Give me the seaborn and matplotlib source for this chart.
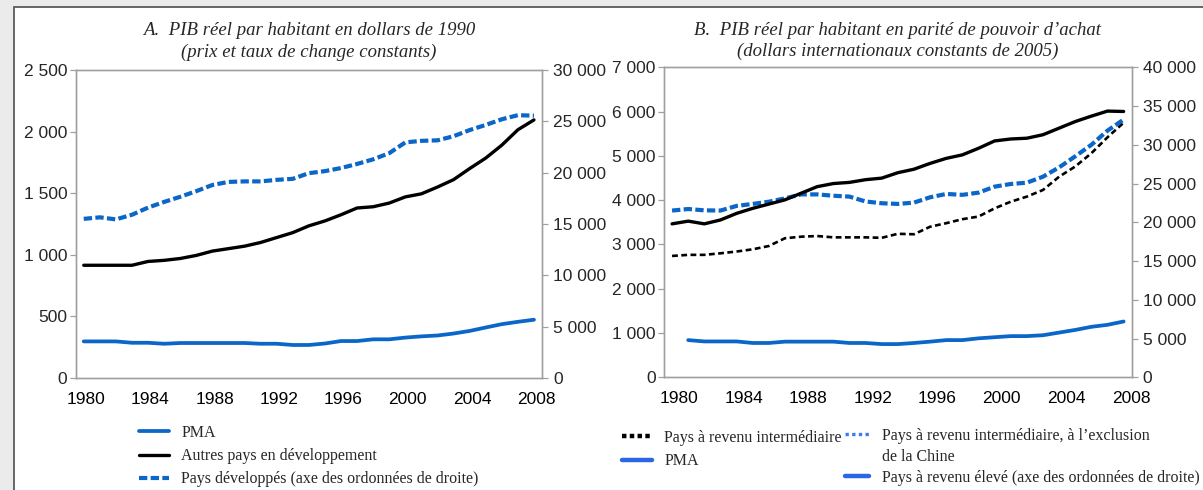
import matplotlib
matplotlib.use("Agg")
import matplotlib.pyplot as plt
import seaborn as sns
import numpy as np
from matplotlib.ticker import FuncFormatter, FixedLocator
from matplotlib.lines import Line2D
from matplotlib.patches import Rectangle

# ---------------- data ----------------
years = list(range(1980, 2009))
label_years = [1980, 1984, 1988, 1992, 1996, 2000, 2004, 2008]

# Panel A : PIB réel par habitant en dollars de 1990
pma_a = [297, 297, 297, 286, 286, 278, 284, 284, 284, 284, 284, 278, 278, 268, 268,
         280, 300, 300, 314, 314, 328, 338, 345, 361, 382, 410, 437, 456, 473]
autres_a = [915, 915, 915, 915, 946, 955, 970, 995, 1030, 1050, 1070, 1100, 1140, 1180, 1235,
            1275, 1325, 1380, 1390, 1420, 1470, 1495, 1550, 1610, 1700, 1785, 1890, 2015, 2095]
developpes_a = [15500, 15650, 15450, 15900, 16600, 17150, 17650, 18200, 18800, 19100, 19150,
                19150, 19300, 19400, 19950, 20150, 20450, 20850, 21300, 21900, 22950, 23100,
                23150, 23550, 24150, 24650, 25200, 25600, 25550]

# Panel B : PIB réel par habitant en PPA (dollars internationaux constants de 2005)
eleve_b = [19800, 20150, 19800, 20300, 21150, 21800, 22350, 22900, 23750, 24600, 25000, 25150,
           25500, 25700, 26400, 26850, 27600, 28250, 28700, 29550, 30500, 30750, 30850, 31300,
           32150, 33000, 33700, 34350, 34300]
inter_b = [2740, 2765, 2765, 2800, 2840, 2890, 2965, 3140, 3175, 3190, 3160, 3160, 3160, 3150,
           3240, 3230, 3400, 3480, 3570, 3630, 3815, 3965, 4080, 4230, 4530, 4760, 5060, 5420, 5750]
inter_hors_chine_b = [3765, 3800, 3770, 3765, 3870, 3915, 3965, 4040, 4130, 4130, 4100, 4080,
                      3970, 3930, 3915, 3945, 4065, 4140, 4120, 4170, 4305, 4365, 4395, 4530,
                      4740, 4990, 5250, 5570, 5820]
pma_b = [np.nan, 840, 810, 810, 810, 775, 775, 805, 805, 805, 805, 775, 775, 750, 750, 775, 805,
         840, 840, 880, 905, 930, 930, 950, 1010, 1070, 1140, 1185, 1260]

legend_a = ["PMA", "Autres pays en développement",
            "Pays développés (axe des ordonnées de droite)"]
legend_b1 = ["Pays à revenu intermédiaire", "PMA"]
legend_b2 = ["Pays à revenu intermédiaire, à l\u2019exclusion", "de la Chine",
             "Pays à revenu élevé (axe des ordonnées de droite)"]
title_a = ["A.  PIB réel par habitant en dollars de 1990", "(prix et taux de change constants)"]
title_b = ["B.  PIB réel par habitant en parité de pouvoir d\u2019achat",
           "(dollars internationaux constants de 2005)"]

# ---------------- style ----------------
sns.set_style("white")
plt.rcParams["font.family"] = ["Liberation Sans", "DejaVu Sans"]
SERIF = "Liberation Serif"
BLUE = "#0a66c8"
BLUE_LEG = "#2a66e6"
GRAY = "#a0a0a0"
FS = 12.5
LFS = 11.5

W, H = 1203, 490
fig = plt.figure(figsize=(W / 100, H / 100), dpi=100, facecolor="#ebebeb")
fig.add_artist(Rectangle((14 / W, -0.1), 1.2, 1.1 - 7.3 / H, transform=fig.transFigure,
                         facecolor="white", edgecolor="#5a5a5a", lw=1.3, zorder=-5))


def fmt(v, pos):
    return f"{v:,.0f}".replace(",", " ")


def style_axes(ax, axr, ylim, ystep, ylimr, ystepr, label_offset):
    ax.set_xlim(1979.5, 2008.5)
    ax.set_ylim(*ylim)
    axr.set_ylim(*ylimr)
    ax.set_yticks(np.arange(ylim[0], ylim[1] + 1, ystep))
    axr.set_yticks(np.arange(ylimr[0], ylimr[1] + 1, ystepr))
    ax.yaxis.set_major_formatter(FuncFormatter(fmt))
    axr.yaxis.set_major_formatter(FuncFormatter(fmt))
    ax.xaxis.set_major_locator(FixedLocator([y + label_offset for y in label_years]))
    ax.set_xticklabels([str(y) for y in label_years])
    ax.xaxis.set_minor_locator(FixedLocator([y + 0.5 for y in years[:-1]]))
    ax.tick_params(axis="x", which="major", length=0, pad=10, labelsize=FS, labelcolor="black")
    ax.tick_params(axis="x", which="minor", direction="inout", length=9, width=0.9, color=GRAY)
    ax.tick_params(axis="y", which="major", direction="out", length=4, width=0.9, color=GRAY,
                   pad=2, labelsize=FS)
    axr.tick_params(axis="y", which="major", direction="out", length=4, width=0.9, color=GRAY,
                    pad=4, labelsize=FS)
    for a in (ax, axr):
        for s in a.spines.values():
            s.set_color(GRAY)
            s.set_linewidth(1.0)
        a.set_xlabel("")
        a.set_ylabel("")
        a.grid(False)


def titles(ax, lines, y1, y2):
    ax.text(0.5, y1, lines[0], transform=ax.transAxes, ha="center", va="center",
            family=SERIF, style="italic", fontsize=13.5)
    ax.text(0.5, y2, lines[1], transform=ax.transAxes, ha="center", va="center",
            family=SERIF, style="italic", fontsize=13.5)


def legend(handles, labels, x, y, hl, spacing):
    fig.legend(handles, labels, loc="upper left", bbox_to_anchor=(x / W, 1 - y / H),
               frameon=False, borderpad=0, borderaxespad=0, handlelength=hl,
               handletextpad=0.8, labelspacing=spacing, prop={"family": SERIF, "size": LFS})


# ---------------- Panel A ----------------
axA = fig.add_axes([75.7 / W, 1 - 378 / H, (542 - 75.7) / W, (378 - 70) / H])
axAr = axA.twinx()
sns.lineplot(x=years, y=pma_a, ax=axA, color=BLUE, lw=2.7, legend=False)
sns.lineplot(x=years, y=autres_a, ax=axA, color="black", lw=2.4, legend=False)
sns.lineplot(x=years, y=developpes_a, ax=axAr, color=BLUE, lw=3.0, ls=(0, (2.0, 0.8)),
             legend=False)
style_axes(axA, axAr, (0, 2500), 500, (0, 30000), 5000, 0.15)
titles(axA, title_a, 1.128, 1.058)

hA = [axA.lines[0], axA.lines[1], axAr.lines[0]]
legend(hA, legend_a, 139, 425, 1.85, 0.45)

# ---------------- Panel B ----------------
axB = fig.add_axes([664 / W, 1 - 377.3 / H, (1131.7 - 664) / W, (377.3 - 67.3) / H])
axBr = axB.twinx()
sns.lineplot(x=years, y=pma_b, ax=axB, color=BLUE, lw=2.7, legend=False)
sns.lineplot(x=years, y=inter_b, ax=axB, color="black", lw=1.9, ls=(0, (2.2, 1.3)),
             legend=False)
sns.lineplot(x=years, y=inter_hors_chine_b, ax=axB, color=BLUE, lw=3.0, ls=(0, (2.0, 0.8)),
             legend=False)
sns.lineplot(x=years, y=eleve_b, ax=axBr, color="black", lw=2.4, legend=False)
style_axes(axB, axBr, (0, 7000), 1000, (0, 40000), 5000, 0.45)
titles(axB, title_b, 1.118, 1.05)

hB1 = [Line2D([], [], color="black", lw=3.2, ls=(0, (1.0, 0.75)), dash_capstyle="butt"),
       Line2D([], [], color=BLUE_LEG, lw=3.2)]
legend(hB1, legend_b1, 622, 430, 1.85, 0.45)
hB2 = [Line2D([], [], color="#3b7cf0", lw=2.4, ls=(0, (1.0, 1.0)), dash_capstyle="butt"),
       Line2D([], [], color="none", lw=0),
       Line2D([], [], color=BLUE_LEG, lw=3.2)]
legend(hB2, legend_b2, 845, 428, 1.5, 0.3)

fig.savefig("out.png", dpi=100, facecolor=fig.get_facecolor())
